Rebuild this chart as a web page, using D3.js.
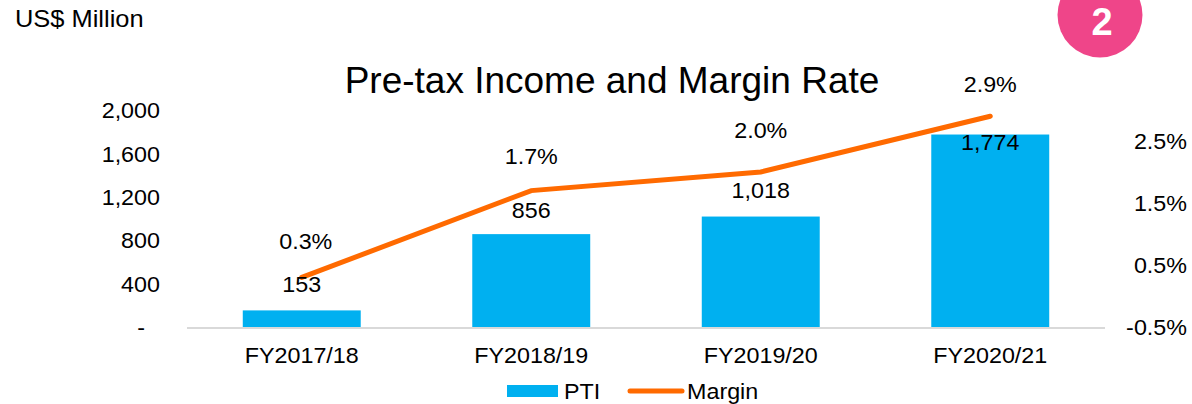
<!DOCTYPE html>
<html><head><meta charset="utf-8">
<script src="https://cdn.jsdelivr.net/npm/d3@7"></script>
<style>body{margin:0;background:#fff}svg{display:block;font-family:"Liberation Sans",Arial,sans-serif}</style>
</head><body>
<svg id="c" width="1192" height="404"></svg>
<script>
const categories = ["FY2017/18","FY2018/19","FY2019/20","FY2020/21"];
const pti = [153, 856, 1018, 1774];
const margin = [0.3, 1.7, 2.0, 2.9];
const leftTicks = [0, 400, 800, 1200, 1600, 2000];
const rightTicks = [-0.5, 0.5, 1.5, 2.5];

const ptiLabelDy = [-26, -24, -26, 8];
const marginLabelDy = [-36, -34, -42, -32];

const svg = d3.select("#c");
const x0 = 187, x1 = 1105, yTop = 110, yBot = 327;
const FF = "Liberation Sans, Arial, sans-serif";
const font = 22;
const SX = 1.06;

const x = d3.scaleBand().domain(categories).range([x0, x1]).paddingInner(0.486).paddingOuter(0.243);
const yL = d3.scaleLinear().domain([0, 2000]).range([yBot, yTop]);
const yR = d3.scaleLinear().domain([-0.5, 3.0]).range([yBot, yTop]);
const fmt = d3.format(",");

// Title
svg.append("text").attr("class", "nos").attr("x", 612).attr("y", 93).attr("text-anchor", "middle")
  .attr("font-size", 37).attr("fill", "#000").text("Pre-tax Income and Margin Rate");

svg.append("text").attr("x", 15).attr("y", 27).attr("font-size", 24).attr("fill", "#000").text("US$ Million");

// Badge
svg.append("circle").attr("cx", 1100).attr("cy", 15).attr("r", 42.5).attr("fill", "#EF4589");
svg.append("text").attr("class", "nos").attr("x", 1102).attr("y", 35).attr("text-anchor", "middle")
  .attr("font-size", 38).attr("font-weight", "bold").attr("fill", "#fff").text("2");

// Left axis
const axL = d3.axisLeft(yL).tickValues(leftTicks).tickSize(0).tickPadding(0)
  .tickFormat(d => d === 0 ? "-" : fmt(d));
const gL = svg.append("g").attr("transform", `translate(160,0)`).call(axL);
gL.select(".domain").remove();
gL.selectAll("text").attr("font-size", font).attr("font-family", FF).attr("fill", "#000").attr("dy", "0.35em");
gL.selectAll(".tick").filter(d => d === 0).select("text").attr("x", -15);

// Right axis
const axR = d3.axisRight(yR).tickValues(rightTicks).tickSize(0).tickPadding(0)
  .tickFormat(d => d.toFixed(1) + "%");
const gR = svg.append("g").attr("transform", `translate(1187,0)`).call(axR);
gR.select(".domain").remove();
gR.selectAll("text").attr("font-size", font).attr("font-family", FF).attr("fill", "#000")
  .attr("text-anchor", "end").attr("dy", "0.35em");

// Bars
svg.selectAll("rect.bar").data(pti).join("rect").attr("class", "bar")
  .attr("x", (d, i) => x(categories[i])).attr("width", x.bandwidth())
  .attr("y", d => yL(d)).attr("height", d => yBot - yL(d)).attr("fill", "#00B0F0");

// Baseline
svg.append("line").attr("x1", x0).attr("x2", x1).attr("y1", yBot + 1).attr("y2", yBot + 1)
  .attr("stroke", "#D9D9D9").attr("stroke-width", 2);

// Category labels
const gX = svg.append("g").attr("transform", `translate(0,${yBot})`)
  .call(d3.axisBottom(x).tickSize(0).tickPadding(0));
gX.select(".domain").remove();
gX.selectAll("text").attr("font-size", font).attr("font-family", FF).attr("fill", "#000")
  .attr("y", 28).attr("dy", "0.35em");

// Line
const cx = (d, i) => x(categories[i]) + x.bandwidth() / 2;
svg.append("path").datum(margin)
  .attr("d", d3.line().x(cx).y(d => yR(d)))
  .attr("fill", "none").attr("stroke", "#FF6A00").attr("stroke-width", 5).attr("stroke-linecap", "round");

// PTI labels
svg.selectAll("text.pl").data(pti).join("text").attr("class", "pl")
  .attr("x", cx).attr("y", (d, i) => yL(d) + ptiLabelDy[i]).attr("dy", "0.35em")
  .attr("text-anchor", "middle").attr("font-size", font).attr("fill", "#000").text(d => fmt(d));

// Margin labels
svg.selectAll("text.ml").data(margin).join("text").attr("class", "ml")
  .attr("x", (d, i) => cx(d, i) + (i === 0 ? 4 : 0)).attr("y", (d, i) => yR(d) + marginLabelDy[i]).attr("dy", "0.35em")
  .attr("text-anchor", "middle").attr("font-size", font).attr("fill", "#000").text(d => d.toFixed(1) + "%");

// Legend
svg.append("rect").attr("x", 507).attr("y", 385).attr("width", 51).attr("height", 12).attr("fill", "#00B0F0");
svg.append("text").attr("x", 564).attr("y", 391).attr("dy", "0.35em").attr("font-size", font).attr("fill", "#000").text("PTI");
svg.append("line").attr("x1", 630).attr("x2", 682).attr("y1", 391).attr("y2", 391)
  .attr("stroke", "#FF6A00").attr("stroke-width", 5).attr("stroke-linecap", "round");
svg.append("text").attr("x", 687).attr("y", 391).attr("dy", "0.35em").attr("font-size", font).attr("fill", "#000").text("Margin");

// slight horizontal stretch of label text to match reference glyph widths
svg.selectAll("text").filter(function(){ return !this.classList.contains("nos"); }).each(function(){
  const t = d3.select(this);
  const tx = +t.attr("x") || 0, ty = +t.attr("y") || 0;
  t.attr("x", 0).attr("y", 0).attr("transform", `translate(${tx},${ty}) scale(${SX},1)`);
});
</script>
</body></html>
